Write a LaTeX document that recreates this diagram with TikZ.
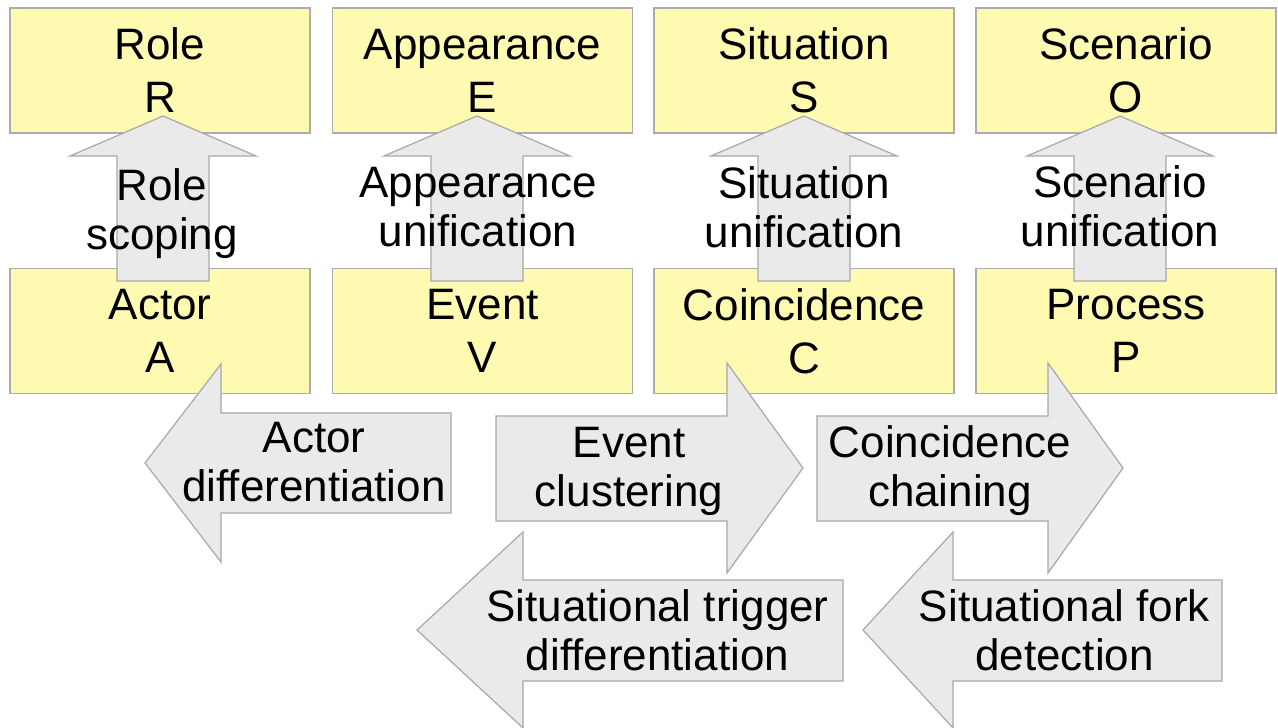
\documentclass[tikz,border=0pt]{standalone}
\usepackage{fontspec}
\setmainfont{Liberation Sans}
\usepackage{tikz}
\usetikzlibrary{positioning}
\definecolor{boxfill}{RGB}{255,250,178}
\definecolor{boxline}{RGB}{172,172,172}
\definecolor{arrowfill}{RGB}{234,234,234}
\definecolor{arrowline}{RGB}{168,168,168}

\begin{document}
\begin{tikzpicture}[x=1pt,y=-1pt,
  class node/.style={rectangle,draw=boxline,fill=boxfill,line width=1.2pt,
  minimum width=300pt,minimum height=125pt,align=center,
  font=\fontsize{44}{53}\selectfont},
  block/.style={draw=arrowline,fill=arrowfill,line width=1.2pt},
  arrow text/.style={align=center,font=\fontsize{44}{49}\selectfont}]
  \useasboundingbox (0,0) rectangle (1278,728);

  % upper row
  \node[class node] (R) at (160,70.5) {Role\\R};
  \node[class node] (E) at (482.5,70.5) {Appearance\\E};
  \node[class node] (S) at (804,70.5) {Situation\\S};
  \node[class node] (O) at (1126,70.5) {Scenario\\O};
  % lower row
  \node[class node] (A) at (160,331) {Actor\\A};
  \node[class node] (V) at (482.5,331) {Event\\V};
  \node[class node] (C) at (804,331) {Coincidence\\C};
  \node[class node] (P) at (1126,331) {Process\\P};

  % upward arrows
  \draw[block] (117,281) -- (117,156) -- (70,156) -- (163,116) -- (256,156)
    -- (209,156) -- (209,281) -- cycle;
  \draw[block] (431,281) -- (431,156) -- (384,156) -- (477,116) -- (570,156)
    -- (523,156) -- (523,281) -- cycle;
  \draw[block] (758,281) -- (758,156) -- (711,156) -- (804,116) -- (897,156)
    -- (850,156) -- (850,281) -- cycle;
  \draw[block] (1074,281) -- (1074,156) -- (1027,156) -- (1120,116) -- (1213,156)
    -- (1166,156) -- (1166,281) -- cycle;

  % sideways arrows
  \draw[block] (451,413) -- (221,413) -- (221,364) -- (145,463) -- (221,562)
    -- (221,513) -- (451,513) -- cycle;
  \draw[block] (496,416) -- (727,416) -- (727,363) -- (803,468) -- (727,573)
    -- (727,521) -- (496,521) -- cycle;
  \draw[block] (817,416) -- (1048,416) -- (1048,363) -- (1123,468) -- (1048,573)
    -- (1048,521) -- (817,521) -- cycle;
  \draw[block] (843,580) -- (523,580) -- (523,532) -- (417,630) -- (523,728)
    -- (523,681) -- (843,681) -- cycle;
  \draw[block] (1222,580) -- (953,580) -- (953,532) -- (863,630) -- (953,728)
    -- (953,681) -- (1222,681) -- cycle;

  % step names
  \node[arrow text] (RS) at (162,213.5) {Role\\scoping};
  \node[arrow text] (EU) at (478,207) {Appearance\\unification};
  \node[arrow text] (SU) at (804,207) {Situation\\unification};
  \node[arrow text] (OU) at (1120,206) {Scenario\\unification};
  \node[arrow text] (AD) at (314,462) {Actor\\differentiation};
  \node[arrow text] (EC) at (629,471) {Event\\clustering};
  \node[arrow text] (CC) at (950,471) {Coincidence\\chaining};
  \node[arrow text] (TD) at (657.5,630) {Situational trigger\\differentiation};
  \node[arrow text] (FD) at (1064.5,630) {Situational fork\\detection};
\end{tikzpicture}
\end{document}
